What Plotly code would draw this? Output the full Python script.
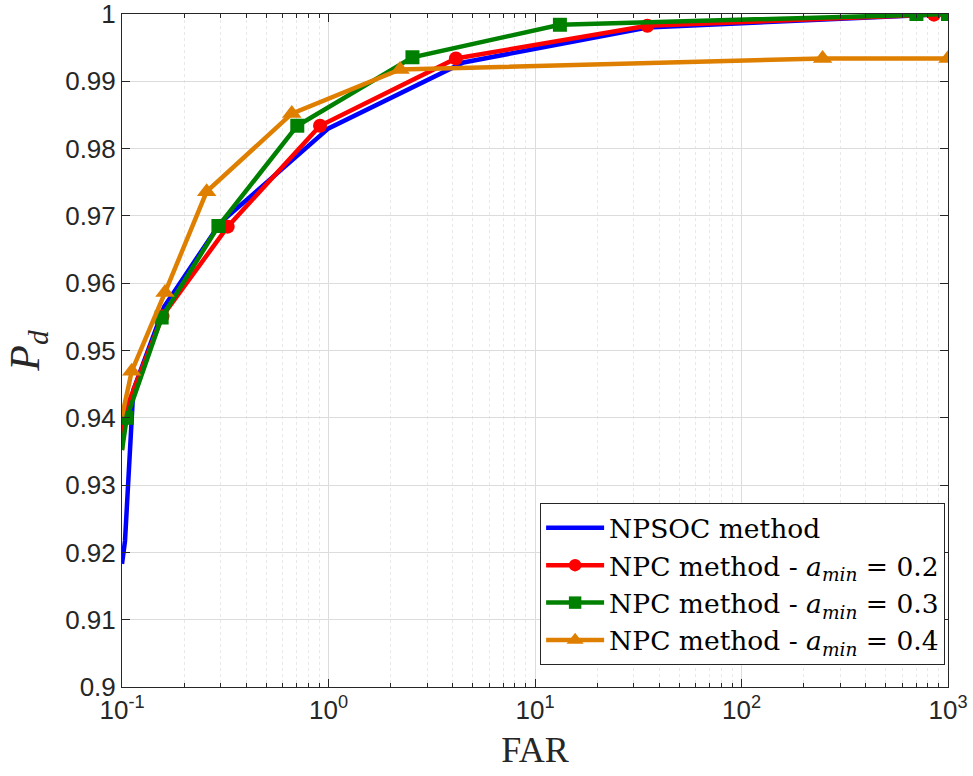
import plotly.graph_objects as go

# ---- data ----
far_npsoc = [0.1, 0.1034, 0.1134, 0.16, 0.30, 1.0, 4.5, 35, 1000]
pd_npsoc = [0.9183, 0.9217, 0.9441, 0.9565, 0.9690, 0.9830, 0.9928, 0.9980, 1.0000]

far_a02 = [0.1, 0.1015, 0.157, 0.325, 0.91, 4.14, 35, 855, 1000]
pd_a02 = [0.9352, 0.9403, 0.9551, 0.9684, 0.9834, 0.9934, 0.99825, 0.9999, 1.0000]

far_a03 = [0.1, 0.1054, 0.1556, 0.293, 0.706, 2.55, 13.2, 703, 1000]
pd_a03 = [0.9352, 0.9400, 0.9549, 0.9685, 0.9834, 0.99357, 0.9984, 1.0000, 1.0000]

far_a04 = [0.1, 0.1114, 0.1615, 0.257, 0.664, 2.22, 247, 1000]
pd_a04 = [0.9402, 0.9469, 0.9586, 0.9736, 0.9852, 0.99175, 0.9934, 0.9934]

x_tickvals = [0.1, 1, 10, 100, 1000]
x_ticktext = ["10<sup>-1</sup>", "10<sup>0</sup>", "10<sup>1</sup>", "10<sup>2</sup>", "10<sup>3</sup>"]
y_tickvals = [0.9, 0.91, 0.92, 0.93, 0.94, 0.95, 0.96, 0.97, 0.98, 0.99, 1.0]
y_ticktext = ["0.9", "0.91", "0.92", "0.93", "0.94", "0.95", "0.96", "0.97", "0.98", "0.99", "1"]

names = [
    "NPSOC method",
    "NPC method - <i>a</i><sub><i>min</i></sub> = 0.2",
    "NPC method - <i>a</i><sub><i>min</i></sub> = 0.3",
    "NPC method - <i>a</i><sub><i>min</i></sub> = 0.4",
]

fig = go.Figure()

fig.add_trace(go.Scatter(x=far_npsoc, y=pd_npsoc, mode="lines", name=names[0],
                         line=dict(color="#0000FF", width=4.5)))

series = [
    (far_a02, pd_a02, "#FF0000", "circle", 14, names[1]),
    (far_a03, pd_a03, "#008000", "square", 14, names[2]),
    (far_a04, pd_a04, "#DF7F00", "triangle-up", 17, names[3]),
]
for xs, ys, col, sym, msize, nm in series:
    sizes = [0] + [msize] * (len(xs) - 1)
    fig.add_trace(go.Scatter(x=xs, y=ys, mode="lines+markers", name=nm,
                             line=dict(color=col, width=4.5),
                             marker=dict(color=col, symbol=sym, size=sizes, opacity=1,
                                         line=dict(width=0))))

axis_common = dict(
    showline=True, linecolor="#262626", linewidth=1, mirror="ticks",
    ticks="inside", ticklen=8, tickcolor="#262626",
    gridcolor="#DCDCDC", gridwidth=1, zeroline=False, automargin=False,
    ticklabeloverflow="allow",
    tickfont=dict(family="Liberation Sans, Arial", size=26, color="#262626"),
)

fig.update_xaxes(
    type="log", range=[-1, 3],
    tickvals=x_tickvals, ticktext=x_ticktext,
    minor=dict(ticks="inside", ticklen=4, tickcolor="#262626", showgrid=True,
               gridcolor="#E8E8E8", griddash="dot", gridwidth=1,
               tickvals=[m * 10 ** e for e in range(-1, 3) for m in range(2, 10)]),
    title=dict(text="FAR", font=dict(family="Liberation Serif, Times New Roman", size=36, color="#262626"),
               standoff=12),
    **axis_common,
)
fig.update_yaxes(
    range=[0.9, 1.0],
    tickvals=y_tickvals, ticktext=y_ticktext,
    title=dict(text="<i>P</i><sub><i>d</i></sub>", font=dict(family="Liberation Serif, Times New Roman", size=42, color="#262626"),
               standoff=12),
    **axis_common,
)

fig.update_layout(
    width=973, height=776,
    margin=dict(l=122, r=25, t=14, b=89),
    plot_bgcolor="white", paper_bgcolor="white",
    legend=dict(x=0.9965, y=0.0327, xanchor="right", yanchor="bottom",
                bgcolor="white", bordercolor="#262626", borderwidth=1,
                font=dict(family="DejaVu Serif", size=26.5, color="black"),
                itemwidth=58, tracegroupgap=0),
    showlegend=True,
)

fig.write_html("out.html", config={"displayModeBar": False},
               post_script="document.body.style.margin='0';document.body.style.overflow='hidden';")
